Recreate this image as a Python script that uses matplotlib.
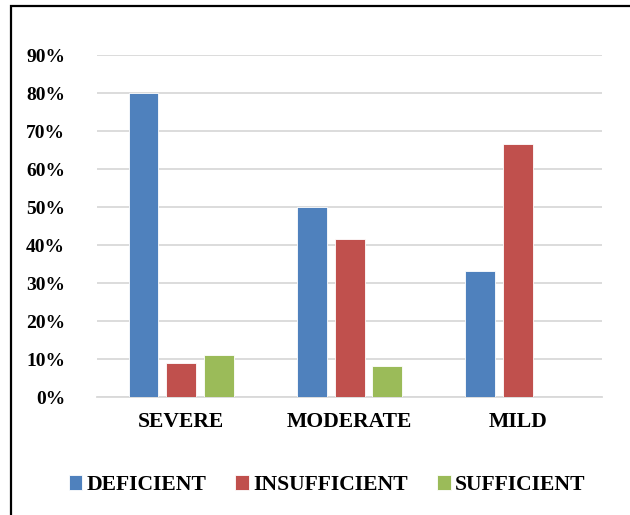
import matplotlib
matplotlib.use("Agg")
import matplotlib.pyplot as plt
from matplotlib.patches import Rectangle
import numpy as np

categories = ["SEVERE", "MODERATE", "MILD"]
series_names = ["DEFICIENT", "INSUFFICIENT", "SUFFICIENT"]
deficient = [80.0, 50.0, 33.3]
insufficient = [8.9, 41.7, 66.7]
sufficient = [11.1, 8.3, 0.0]
yticks = [0, 10, 20, 30, 40, 50, 60, 70, 80, 90]
colors = ["#4F81BD", "#C0504D", "#9BBB59"]

plt.rcParams['font.family'] = ['Liberation Serif', 'DejaVu Serif']
plt.rcParams['font.weight'] = 'bold'

fig = plt.figure(figsize=(6.3, 5.15), dpi=100)
ax = fig.add_axes([0.154, 0.229, 0.802, 0.664])

x = np.arange(len(categories))
width = 0.178
offs = [-0.224, 0.0, 0.224]
data = [deficient, insufficient, sufficient]
for vals, off, c, name in zip(data, offs, colors, series_names):
    ax.bar(x + off, [v / 100 for v in vals], width, color=c, label=name,
           edgecolor='white', linewidth=0.6, zorder=3)

ax.set_xlim(-0.5, 2.5)
ax.set_ylim(0, 0.9)
ax.set_yticks([t / 100 for t in yticks])
ax.set_yticklabels([f"{t}%" for t in yticks], fontsize=14, fontweight='bold')
ax.set_xticks(x)
ax.set_xticklabels(categories, fontsize=15.6, fontweight='bold')
ax.tick_params(axis='both', length=0)
ax.tick_params(axis='y', pad=23)
ax.tick_params(axis='x', pad=11)
ax.yaxis.grid(True, color='#d9d9d9', linewidth=1.3, zorder=0)
ax.set_axisbelow(True)
for s in ['top', 'right', 'left']:
    ax.spines[s].set_visible(False)
ax.spines['bottom'].set_color('#d9d9d9')
ax.spines['bottom'].set_linewidth(1.3)

leg = fig.legend(loc='center', bbox_to_anchor=(0.519, 0.058), ncol=3, frameon=False,
                 prop={'size': 15.6, 'weight': 'bold', 'family': 'Liberation Serif'},
                 handlelength=0.62, handleheight=0.62, handletextpad=0.2, columnspacing=1.35)

fig.patches.append(Rectangle((11 / 630, -0.1), 1.2, 1.1 - 6 / 515, transform=fig.transFigure,
                             fill=False, edgecolor='black', linewidth=1.6))

fig.savefig("out.png", dpi=100)
